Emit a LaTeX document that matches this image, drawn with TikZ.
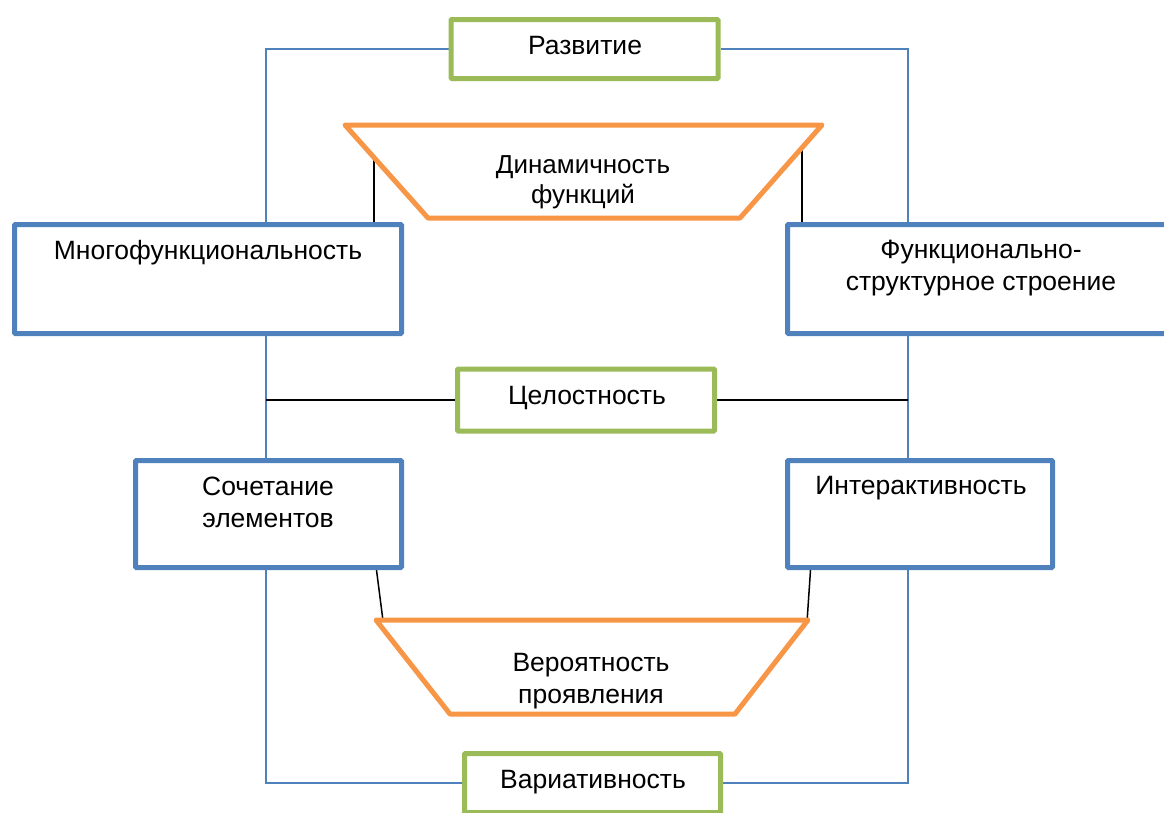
\documentclass[tikz,border=0pt]{standalone}
\usepackage{fontspec}
\setmainfont{Liberation Sans}
\usetikzlibrary{calc,backgrounds}
\definecolor{boxblue}{HTML}{4F81BD}
\definecolor{boxgreen}{HTML}{9BBB59}
\definecolor{boxorange}{HTML}{F79646}
\begin{document}
\begin{tikzpicture}[x=1pt,y=-1pt,
  txt/.style={font=\fontsize{26.5}{32}\selectfont, inner sep=0pt, align=center, anchor=base},
  bluebox/.style={draw=boxblue, line width=5pt, fill=white, inner sep=0pt, rounded corners=1pt},
  greenbox/.style={draw=boxgreen, line width=5pt, fill=white, inner sep=0pt, rounded corners=1pt},
  orangeshape/.style={draw=boxorange, line width=5pt, line join=round, fill=white},
  frameline/.style={draw=boxblue, line width=1.5pt},
  link/.style={draw=black, line width=1.5pt}
]
\useasboundingbox (0,0) rectangle (1164,812);
\clip (0,0) rectangle (1164,812);

% frame columns
\coordinate (fL) at (266,0);
\coordinate (fR) at (908,0);

% boxes
\node[greenbox, minimum width=267pt, minimum height=59pt] (razv) at (584.5,49) {};
\node[bluebox, minimum width=387pt, minimum height=109pt] (multi) at (208,279) {};
\node[bluebox, minimum width=387pt, minimum height=109pt] (funk) at (981,279) {};
\node[greenbox, minimum width=257pt, minimum height=62pt] (cel) at (586,400) {};
\node[bluebox, minimum width=266pt, minimum height=107pt] (soch) at (268.5,514) {};
\node[bluebox, minimum width=265pt, minimum height=107pt] (inter) at (920,514) {};
\node[greenbox, minimum width=256pt, minimum height=59pt] (var) at (592.5,783) {};

% trapezium corners
\coordinate (dtl) at (345,125);
\coordinate (dtr) at (822,125);
\coordinate (dbr) at (740,218);
\coordinate (dbl) at (428,218);
\coordinate (vtl) at (376,620);
\coordinate (vtr) at (808,620);
\coordinate (vbr) at (735,714);
\coordinate (vbl) at (450,714);

% trapeziums
\draw[orangeshape] (dtl) -- (dtr) -- (dbr) -- (dbl) -- cycle;
\draw[orangeshape] (vtl) -- (vtr) -- (vbr) -- (vbl) -- cycle;

% attachment points on the trapezium edges and box bottoms
\path (dtl) -- (dbl) coordinate[pos=0.35] (dynL);
\path (dtr) -- (dbr) coordinate[pos=0.244] (dynR);
\path (vtl) -- (vtr) coordinate[pos=0.016] (verL);
\path (vtl) -- (vtr) coordinate[pos=0.998] (verR);
\coordinate (sochB) at ([xshift=-27.5pt]soch.south east);
\coordinate (interB) at ([xshift=25.5pt]inter.south west);

\begin{scope}[on background layer]
  % thin blue frame
  \draw[frameline] (razv.west) -| (multi.north -| fL);
  \draw[frameline] (multi.south -| fL) -- (soch.north -| fL);
  \draw[frameline] (soch.south -| fL) |- (var.west);
  \draw[frameline] (razv.east) -| (funk.north -| fR);
  \draw[frameline] (funk.south -| fR) -- (inter.north -| fR);
  \draw[frameline] (inter.south -| fR) |- (var.east);
  % black links
  \draw[link] (cel.west) -- (cel.west -| fL);
  \draw[link] (cel.east) -- (cel.east -| fR);
  \draw[link] (dynL) -- (dynL |- multi.north);
  \draw[link] (dynR) -- (dynR |- funk.north);
  \draw[link] (sochB) -- (verL);
  \draw[link] (interB) -- (verR);
\end{scope}

% texts (base anchor sits on the last line)
\node[txt] (trazv) at (585,54) {Развитие};
\node[txt, font=\fontsize{26}{30}\selectfont] (tdyn) at (583,203) {Динамичность\\функций};
\node[txt] (tmulti) at (208,259) {Многофункциональность};
\node[txt] (tfunk) at (981,290) {Функционально-\\структурное строение};
\node[txt] (tcel) at (587,404) {Целостность};
\node[txt] (tsoch) at (268,527) {Сочетание\\элементов};
\node[txt] (tinter) at (921,494) {Интерактивность};
\node[txt] (tver) at (591,703) {Вероятность\\проявления};
\node[txt] (tvar) at (593,788) {Вариативность};
\end{tikzpicture}
\end{document}
